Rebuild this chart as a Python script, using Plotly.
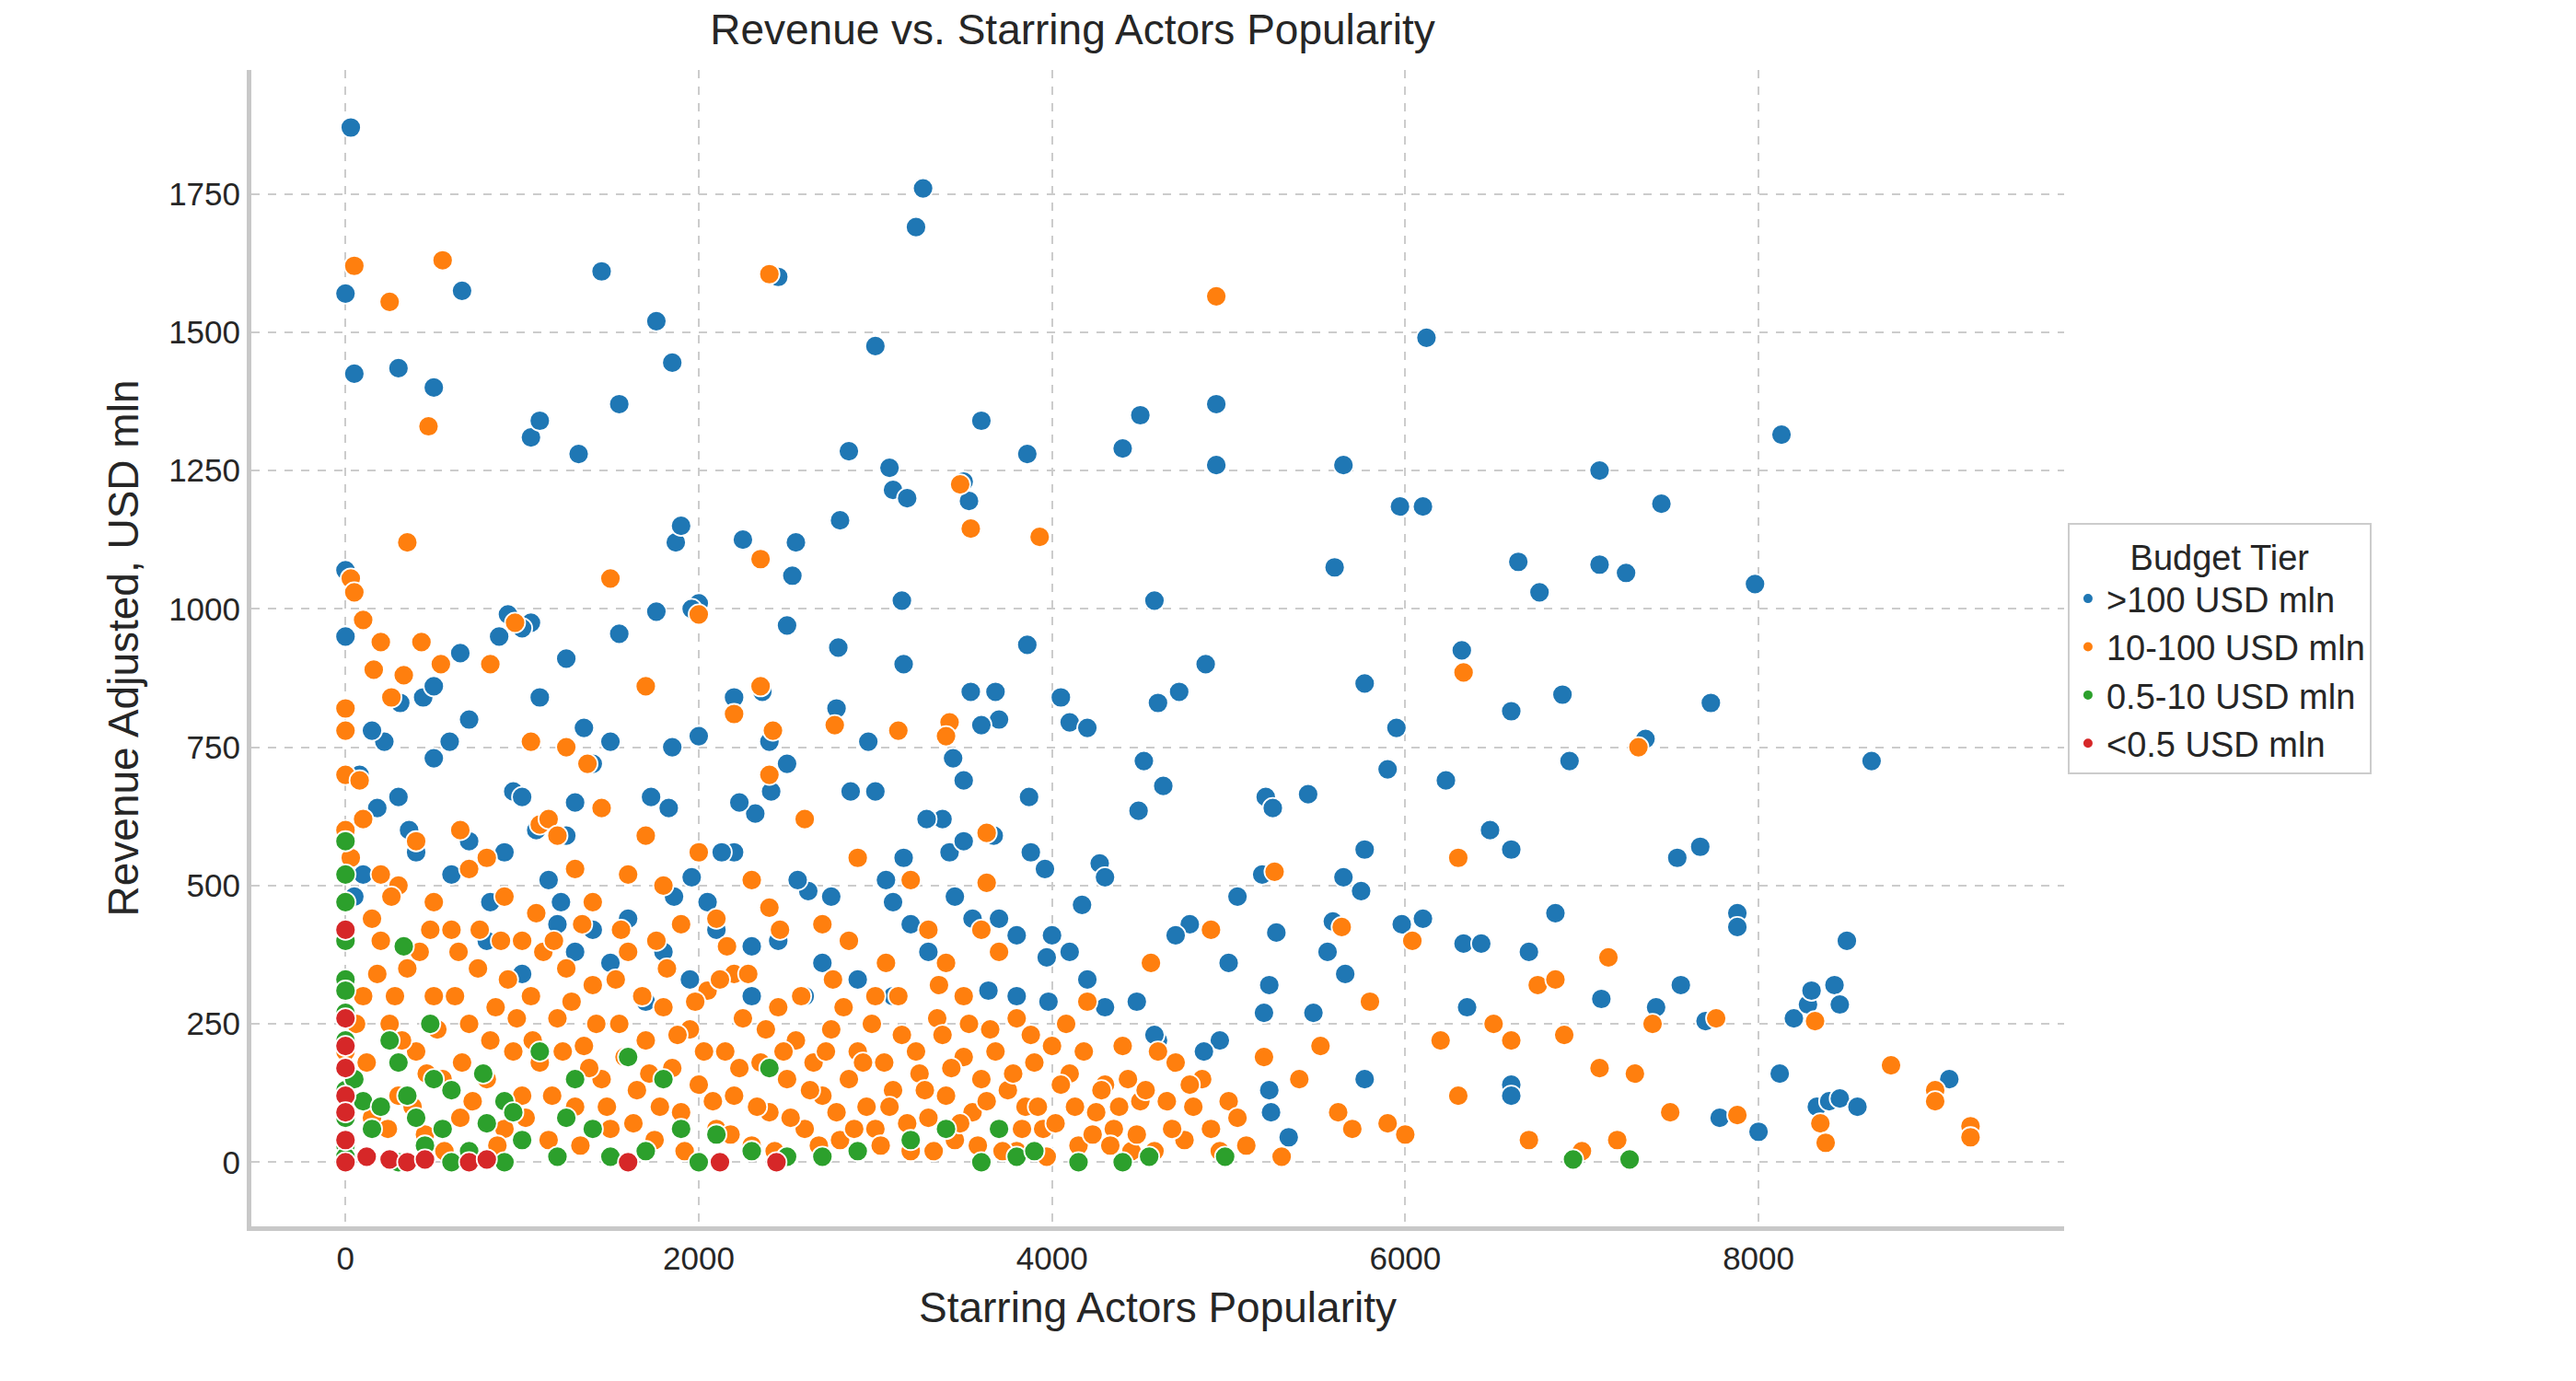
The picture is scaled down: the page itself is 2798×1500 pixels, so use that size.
import plotly.graph_objects as go

tiers = [">100 USD mln", "10-100 USD mln", "0.5-10 USD mln", "<0.5 USD mln"]
colors = ["#1f77b4", "#ff7f0e", "#2ca02c", "#d62728"]

# (popularity, revenue)
big = [(30,1870),(0,1570),(50,1425),(300,1435),(500,1400),(660,1575),(1450,1610),(1550,1370),(1050,1310),(1100,1340),(1320,1280),(1760,1520),(1850,1445),(1870,1120),(1900,1150),(2000,1010),(2250,1125),(2450,1600),(2530,1060),(2550,1120),(2800,1160),(2850,1285),(3000,1475),(3080,1255),(3100,1215),(3180,1200),(3230,1690),(3270,1760),(3500,1230),(3530,1195),(3600,1340),(3860,1280),(3150,1015),(3160,900),(2790,930),(2500,970),(2360,850),(2400,760),(2200,840),(1960,1000),(1760,995),(1550,955),(1250,910),(1050,975),(1000,965),(920,990),(870,950),(650,920),(700,800),(590,760),(500,730),(440,840),(500,860),(310,830),(220,760),(80,700),(0,1070),(0,950),(150,780),(1100,840),(1350,785),(1850,750),(2000,770),(2500,720),(2780,820),(2960,760),(3000,670),(3440,730),(3500,690),(3540,850),(3680,850),(3700,800),(3600,790),(3860,935),(3870,660),(4050,840),(4100,795),(4200,785),(4400,1290),(4500,1350),(4580,1015),(4600,830),(4720,850),(4870,900),(4930,1370),(4930,1260),(5650,1260),(5600,1075),(5970,1185),(6100,1185),(6120,1490),(5770,865),(5950,785),(5900,710),(6230,690),(6320,925),(6640,1085),(6760,1030),(6600,815),(6890,845),(6930,725),(7100,1250),(7100,1080),(7250,1065),(7360,765),(7450,1190),(7730,830),(7980,1045),(8130,1315),(8640,725),(7540,550),(7670,570),(6480,600),(6600,565),(6850,450),(6700,380),(6330,395),(6430,395),(6350,280),(5980,430),(6100,440),(5770,565),(5650,515),(5750,490),(5560,380),(5590,435),(5660,340),(5450,665),(5210,660),(5250,640),(5190,520),(5270,415),(5230,320),(5050,480),(5200,270),(5480,270),(5770,150),(4950,220),(5000,360),(4780,430),(4700,410),(4630,680),(4520,725),(4490,635),(4270,540),(4300,515),(4170,465),(4000,410),(4100,380),(3970,370),(3960,530),(3880,560),(3670,590),(3420,560),(3500,580),(3380,620),(3290,620),(3160,550),(3100,470),(3060,510),(3200,430),(2860,670),(2750,480),(2620,490),(2560,510),(2410,670),(2320,630),(2230,650),(2200,560),(2130,560),(2050,470),(1960,515),(1860,480),(1730,660),(1830,640),(1500,760),(1400,720),(1300,650),(1250,590),(1220,470),(1150,510),(950,670),(1000,660),(1080,600),(820,470),(800,400),(700,580),(600,520),(360,600),(300,660),(180,640),(100,520),(50,480),(3550,440),(3640,310),(3800,300),(3980,290),(4300,280),(4480,290),(4600,220),(3100,300),(2900,330),(2700,360),(2450,400),(2300,390),(1950,330),(1700,290),(1500,360),(1300,380),(1000,340),(6600,140),(6600,120),(7420,280),(7560,320),(7700,255),(7780,80),(7880,450),(7880,425),(8000,55),(8120,160),(8200,260),(8280,285),(8300,310),(8330,100),(8400,110),(8430,320),(8460,285),(8460,115),(8500,400),(8560,100),(9080,150),(7110,295),(5340,45),(5230,130),(5240,90),(4860,200),(4580,230),(1400,420),(1600,440),(1800,380),(2100,420),(2600,300),(3300,380),(3450,480),(3700,440),(4200,330),(900,560),(1200,430),(400,560),(2300,300),(3800,410)]

mid = [(50,1620),(550,1630),(250,1555),(470,1330),(350,1120),(2400,1605),(4930,1565),(1500,1055),(2000,990),(2350,1090),(3480,1225),(3540,1145),(3930,1130),(960,975),(30,1055),(50,1030),(100,980),(0,820),(0,780),(0,700),(80,690),(200,940),(160,890),(260,840),(330,880),(430,940),(540,900),(820,900),(1050,760),(1250,750),(1370,720),(1700,860),(2200,810),(2350,860),(2420,780),(2400,700),(2770,790),(3130,780),(3420,795),(3400,770),(3630,595),(3630,505),(4900,420),(6330,885),(6300,550),(7320,750),(6040,400),(5640,425),(5260,525),(0,600),(30,550),(100,620),(200,520),(300,500),(400,580),(500,470),(650,600),(700,530),(800,550),(900,480),(1000,400),(1100,610),(1150,620),(1200,590),(1300,530),(1400,470),(1450,640),(1600,520),(1700,590),(1800,500),(1900,430),(2000,560),(2100,440),(2200,340),(2300,510),(2400,460),(2600,620),(2700,430),(2850,400),(2900,550),(3000,300),(3200,510),(3300,420),(3400,360),(3500,300),(3600,420),(3700,380),(3800,260),(3900,180),(4000,210),(4100,160),(4200,290),(4300,140),(4400,210),(4500,110),(4560,360),(4600,200),(4700,180),(4800,100),(4900,60),(5000,110),(5100,30),(5200,190),(5300,10),(5400,150),(5520,210),(5620,90),(5700,60),(5800,290),(5900,70),(6000,50),(6200,220),(6300,120),(6500,250),(6600,220),(6700,40),(6750,320),(6850,330),(6900,230),(7000,20),(7100,170),(7150,370),(7200,40),(7300,160),(7400,250),(7500,90),(7760,260),(7880,85),(8320,255),(8350,70),(8380,35),(8750,175),(9000,130),(9000,110),(9200,65),(9200,45),(0,200),(50,150),(100,300),(150,80),(200,400),(250,250),(300,120),(350,350),(400,200),(450,50),(500,300),(550,150),(600,420),(650,80),(700,250),(750,350),(800,150),(850,280),(900,60),(950,200),(1000,120),(1050,300),(1100,180),(1150,40),(1200,260),(1250,350),(1300,100),(1350,210),(1400,320),(1450,150),(1500,60),(1550,250),(1600,380),(1650,130),(1700,220),(1750,40),(1800,280),(1850,170),(1900,90),(1950,240),(2000,140),(2050,310),(2100,60),(2150,200),(2200,120),(2250,260),(2300,30),(2350,180),(2400,90),(2450,280),(2500,150),(2550,220),(2600,60),(2650,180),(2700,120),(2750,240),(2800,40),(2850,150),(2900,200),(2950,100),(3000,60),(3050,180),(3100,130),(3150,230),(3200,20),(3250,160),(3300,80),(3350,260),(3400,120),(3450,40),(3500,190),(3550,90),(3600,150),(3650,240),(3700,60),(3750,130),(3800,20),(3850,100),(3950,60),(4050,140),(4150,30),(4250,90),(4350,60),(4450,20),(4650,110),(4750,40),(4850,150),(4950,20),(5050,80)]

# extra dense cluster, bottom-left
mid_dense = [(60,250),(120,180),(180,340),(240,60),(280,300),(320,220),(380,100),(420,380),(460,160),(520,240),(560,20),(620,300),(660,180),(720,110),(760,420),(820,220),(860,30),(920,330),(970,260),(1020,80),(1060,220),(1120,380),(1170,120),(1230,200),(1280,290),(1330,30),(1380,170),(1420,250),(1480,100),(1530,330),(1580,190),(1630,70),(1680,300),(1720,160),(1780,100),(1820,350),(1880,230),(1920,20),(1980,290),(2030,200),(2080,110),(2120,330),(2180,50),(2230,170),(2280,340),(2330,100),(2380,240),(2430,20),(2480,200),(2520,80),(2580,300),(2630,130),(2680,30),(2720,200),(2780,90),(2820,280),(2880,60),(2930,180),(2980,250),(3030,30),(3080,100),(3130,300),(3180,70),(3230,200),(3280,130),(3330,20),(3380,230),(3430,170),(3480,70),(3530,250),(3580,30),(3630,110),(3680,200),(3720,20),(3780,160),(3830,60),(3880,230),(3920,100),(3970,10),(4020,70),(4080,250),(4130,100),(4180,200),(4230,50),(4280,130),(4330,30),(4380,100),(4430,150),(4480,50),(4530,130),(4580,20),(4680,60),(4780,140),(150,440),(260,480),(480,420),(640,380),(880,400),(1080,450),(1180,400),(1340,430),(1560,420),(1760,400),(2160,390),(2460,420),(2760,330),(3060,360),(3360,320)]

small = [(0,580),(0,520),(0,470),(0,400),(0,330),(0,310),(0,270),(0,220),(0,170),(0,130),(0,80),(0,30),(0,10),(50,150),(100,110),(150,60),(200,100),(250,220),(300,180),(330,390),(350,120),(400,80),(450,30),(480,250),(500,150),(550,60),(600,130),(700,20),(780,160),(800,70),(900,110),(950,90),(1000,40),(1100,200),(1200,10),(1300,150),(1400,60),(1500,10),(1600,190),(1700,20),(1800,150),(1900,60),(2000,0),(2100,50),(2300,20),(2400,170),(2500,10),(2700,10),(2900,20),(3200,40),(3400,60),(3600,0),(3700,60),(3800,10),(3900,20),(4150,0),(4400,0),(4550,10),(4980,10),(6950,5),(7270,5),(1250,80),(900,0),(600,0),(300,0)]

tiny = [(0,420),(0,260),(0,210),(0,170),(0,120),(0,90),(0,40),(0,0),(120,10),(250,5),(350,0),(450,5),(700,0),(800,5),(1600,0),(2120,0),(2440,0)]

fig = go.Figure()
for name, color, pts in zip(tiers, colors, [big, mid + mid_dense, small, tiny]):
    fig.add_trace(go.Scatter(
        x=[p[0] for p in pts], y=[p[1] for p in pts], mode="markers", name=name,
        marker=dict(color=color, size=22, line=dict(color="white", width=1.8))))

axis = dict(showgrid=True, gridcolor="#cccccc", griddash="dash", gridwidth=2,
            zeroline=False, showline=True, linecolor="#c8c8c8", linewidth=5,
            tickfont=dict(size=35, color="#262626"), ticks="")
fig.update_layout(
    width=2798, height=1500, plot_bgcolor="white", paper_bgcolor="white",
    font=dict(family="Arial, Liberation Sans", color="#262626"),
    margin=dict(l=265, r=564, t=68, b=176),
    title=dict(text="Revenue vs. Starring Actors Popularity", x=0.453, xref="paper",
               y=0.995, yanchor="top", font=dict(size=46)),
    xaxis=dict(axis, range=[-533, 9730], dtick=2000,
               title=dict(text="Starring Actors Popularity", font=dict(size=46), standoff=20)),
    yaxis=dict(axis, range=[-116, 1974], dtick=250,
               title=dict(text="Revenue Adjusted, USD mln", font=dict(size=46), standoff=20)),
    legend=dict(x=1.002, y=0.5, xanchor="left", yanchor="middle",
                title=dict(text="Budget Tier", side="top center", font=dict(size=38)),
                font=dict(size=38), bordercolor="#cccccc", borderwidth=2,
                itemsizing="constant"),
)
fig.write_html("out.html")
